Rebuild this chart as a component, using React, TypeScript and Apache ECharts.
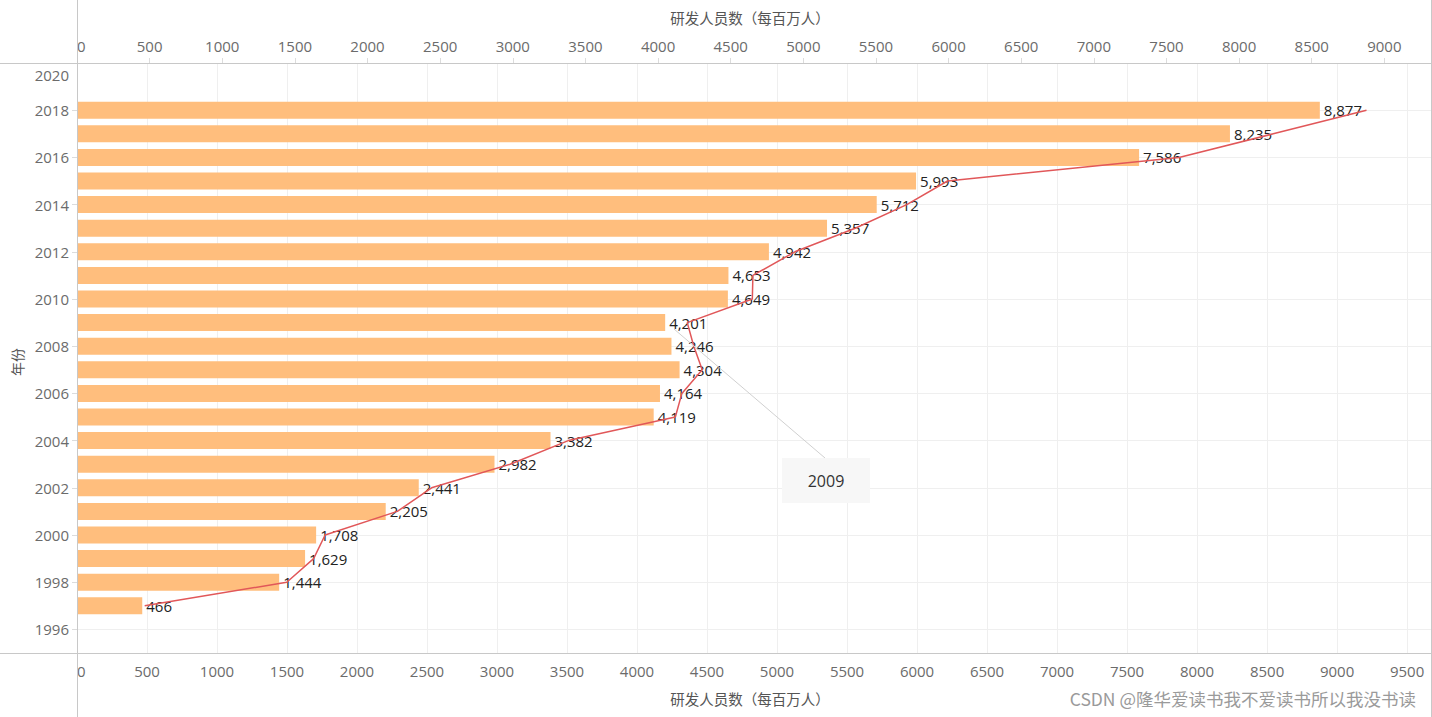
import React, { useEffect, useRef } from "react";
import * as echarts from "echarts";

const years = [
  "1995", "1996", "1997", "1998", "1999", "2000", "2001", "2002", "2003", "2004",
  "2005", "2006", "2007", "2008", "2009", "2010", "2011", "2012", "2013", "2014",
  "2015", "2016", "2017", "2018", "2019", "2020",
];
const dataYears = [
  "1997", "1998", "1999", "2000", "2001", "2002", "2003", "2004", "2005", "2006",
  "2007", "2008", "2009", "2010", "2011", "2012", "2013", "2014", "2015", "2016",
  "2017", "2018",
];
const researchers = [
  466, 1444, 1629, 1708, 2205, 2441, 2982, 3382, 4119, 4164,
  4304, 4246, 4201, 4649, 4653, 4942, 5357, 5712, 5993, 7586,
  8235, 8877,
];
const axisTitle = "研发人员数（每百万人）";
const yTitle = "年份";
const watermark = "CSDN @隆华爱读书我不爱读书所以我没书读";
const annotationText = "2009";

export default function App() {
  const ref = useRef<HTMLDivElement>(null);
  useEffect(() => {
    document.body.style.margin = "0";
    if (!ref.current) return;
    const chart = echarts.init(ref.current, undefined, { renderer: "svg" });
    const barData = years.map((y) => {
      const i = dataYears.indexOf(y);
      return i >= 0 ? researchers[i] : null;
    });
    const lineData = dataYears.map((y, i) => [researchers[i], y]);
    const labelFont = "'Open Sans', 'Noto Sans', sans-serif";
    const gray = "#6b6b6b";
    const lineColor = "#c8c8c8";
    const evenYear = (_i: number, v: string) => Number(v) % 2 === 0;
    chart.setOption({
      animation: false,
      grid: { left: 77, top: 63, right: 1, bottom: 64, containLabel: false },
      xAxis: [
        {
          type: "value",
          position: "bottom",
          min: 0,
          max: 9671,
          interval: 500,
          axisLine: { show: false },
          axisTick: { show: false },
          splitLine: { show: true, lineStyle: { color: "#efefef", width: 1 } },
          axisLabel: {
            color: gray,
            fontSize: 15,
            fontFamily: labelFont,
            margin: 10,
            showMaxLabel: false,
            alignMinLabel: "left",
            formatter: (v: number) => (v % 500 === 0 ? String(v) : ""),
          },
        },
        {
          type: "value",
          position: "top",
          min: 0,
          max: 9321,
          interval: 500,
          axisLine: { show: false },
          axisTick: { show: true, length: 5, lineStyle: { color: "#dcdcdc" } },
          splitLine: { show: false },
          axisLabel: {
            color: gray,
            fontSize: 15,
            fontFamily: labelFont,
            margin: 10,
            showMaxLabel: false,
            alignMinLabel: "left",
            formatter: (v: number) => (v % 500 === 0 ? String(v) : ""),
          },
        },
      ],
      yAxis: {
        type: "category",
        data: years,
        boundaryGap: false,
        axisLine: { show: false },
        axisTick: {
          show: true,
          length: 5,
          interval: (i: number, v: string) => evenYear(i, v) && v !== "2020",
          lineStyle: { color: "#dcdcdc" },
        },
        splitLine: {
          show: true,
          interval: evenYear,
          lineStyle: { color: "#efefef", width: 1 },
        },
        axisLabel: {
          color: gray,
          fontSize: 15,
          fontFamily: labelFont,
          margin: 8,
          interval: (i: number, v: string) => evenYear(i, v) && v !== "2020",
        },
      },
      series: [
        {
          type: "bar",
          xAxisIndex: 0,
          data: barData,
          barWidth: 17,
          itemStyle: { color: "#FFBE7D" },
          label: {
            show: true,
            position: "right",
            distance: 4,
            color: "#222",
            fontSize: 15,
            fontFamily: labelFont,
            formatter: (p: any) => Number(p.value).toLocaleString("en-US"),
          },
        },
        {
          type: "line",
          xAxisIndex: 1,
          data: lineData,
          showSymbol: false,
          symbol: "none",
          lineStyle: { color: "#E15759", width: 1.5 },
          z: 5,
        },
      ],
      graphic: [
        { type: "line", shape: { x1: 0, y1: 63.5, x2: 1431, y2: 63.5 }, style: { stroke: lineColor, lineWidth: 1 }, z: 10 },
        { type: "line", shape: { x1: 0, y1: 653.5, x2: 1431, y2: 653.5 }, style: { stroke: lineColor, lineWidth: 1 }, z: 10 },
        { type: "line", shape: { x1: 77.5, y1: 0, x2: 77.5, y2: 717 }, style: { stroke: lineColor, lineWidth: 1 }, z: 10 },
        { type: "line", shape: { x1: 1431.5, y1: 0, x2: 1431.5, y2: 717 }, style: { stroke: lineColor, lineWidth: 1 }, z: 10 },
        {
          type: "text",
          x: 750, y: 17,
          style: { text: axisTitle, fill: "#555", font: "14.5px 'Noto Sans CJK SC', sans-serif", textAlign: "center", textVerticalAlign: "middle" },
        },
        {
          type: "text",
          x: 750, y: 698,
          style: { text: axisTitle, fill: "#555", font: "14.5px 'Noto Sans CJK SC', sans-serif", textAlign: "center", textVerticalAlign: "middle" },
        },
        {
          type: "text",
          x: 17, y: 362, rotation: Math.PI / 2,
          style: { text: yTitle, fill: "#555", font: "14px 'Noto Sans CJK SC', sans-serif", textAlign: "center", textVerticalAlign: "middle" },
        },
        {
          type: "text",
          x: 69, y: 75,
          style: { text: "2020", fill: gray, font: "15px 'Open Sans', sans-serif", textAlign: "right", textVerticalAlign: "middle" },
        },
        {
          type: "text",
          x: 1416, y: 698,
          style: { text: watermark, fill: "#9a9a9a", font: "17.5px 'Noto Sans CJK SC', sans-serif", textAlign: "right", textVerticalAlign: "middle" },
        },
        { type: "line", shape: { x1: 674, y1: 329, x2: 825, y2: 458 }, style: { stroke: "#d0d0d0", lineWidth: 1 }, z: 6 },
        { type: "rect", shape: { x: 782, y: 458, width: 88, height: 45 }, style: { fill: "#f7f7f7" }, z: 6 },
        {
          type: "text",
          x: 826, y: 481, z: 7,
          style: { text: annotationText, fill: "#333", font: "16px 'Open Sans', sans-serif", textAlign: "center", textVerticalAlign: "middle" },
        },
      ],
    });
    return () => chart.dispose();
  }, []);
  return <div ref={ref} style={{ width: 1432, height: 717 }} />;
}
